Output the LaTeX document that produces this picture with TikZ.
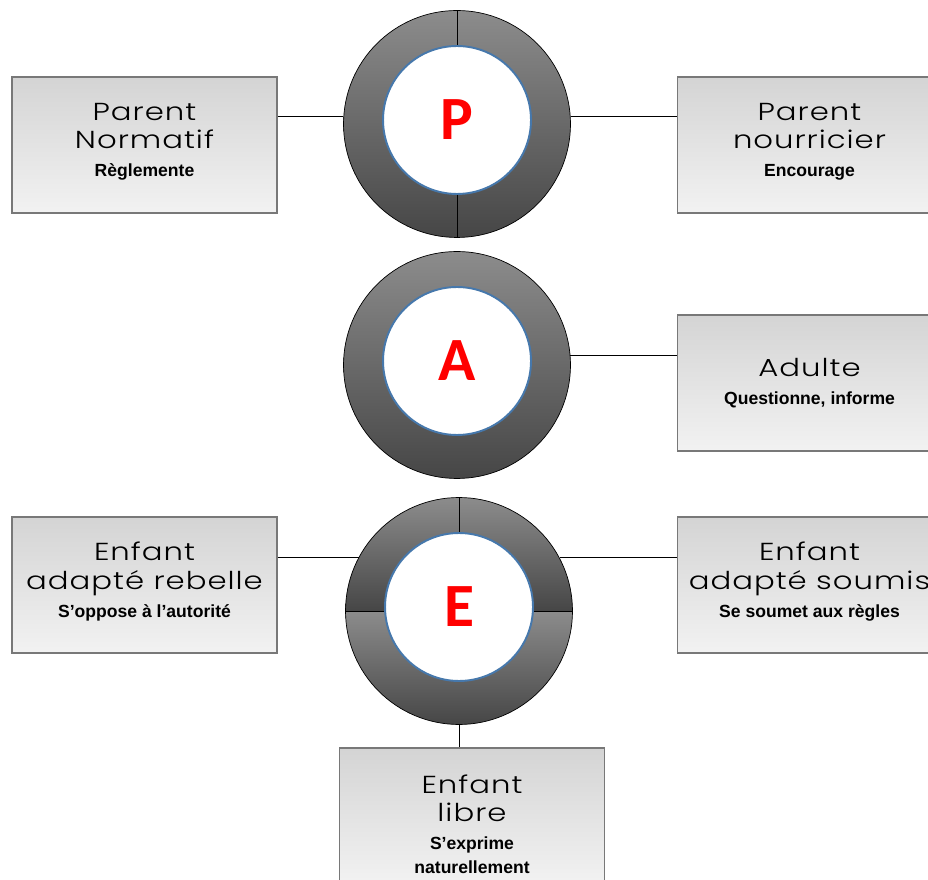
\documentclass[tikz,border=0pt]{standalone}
\usepackage{fontspec}
\usepackage{tikz}
\usetikzlibrary{positioning}

\newfontfamily\titrefont{Poppins Light}[FakeStretch=1.25, LetterSpace=4]
\newfontfamily\sousfont{Liberation Sans}
\newfontfamily\lettrefont{Carlito}

\definecolor{boitebord}{RGB}{120,120,120}
\definecolor{boitehaut}{RGB}{212,212,212}
\definecolor{boitebas}{RGB}{242,242,242}
\definecolor{anneauclair}{RGB}{140,140,140}
\definecolor{anneaufonce}{RGB}{70,70,70}
\definecolor{coeurbord}{RGB}{70,120,172}

\newcommand{\sous}[1]{{\sousfont\bfseries\fontsize{10}{12}\selectfont #1}}

\begin{document}
\begin{tikzpicture}[
            x = 0.02cm, y = 0.02cm, % one unit = one pixel of the layout
            boite/.style = {draw=boitebord, semithick, top color=boitehaut,
                            bottom color=boitebas, minimum width=5.3cm,
                            minimum height=2.72cm, align=center, inner sep=0pt,
                            font=\titrefont\fontsize{14}{16}\selectfont},
            anneau/.style = {circle, draw, thin, minimum size=4.54cm, inner sep=0pt},
            coeur/.style = {circle, draw=coeurbord, line width=1.1pt, fill=white,
                            minimum size=2.96cm, inner sep=0pt, yshift=0.08cm,
                            text=red, font=\lettrefont\bfseries\fontsize{35}{40}\selectfont},
            lien/.style = {draw, thin}
        ]

    \useasboundingbox (0,0) rectangle (928,879);
    \clip (0,0) rectangle (928,879);

    % the three rings
    \node[anneau, top color=anneauclair, bottom color=anneaufonce] (P) at (457,755) {};
    \node[anneau, top color=anneauclair, bottom color=anneaufonce] (A) at (457,514) {};

    \coordinate (Ec) at (459,268);
    \shade[top color=anneauclair, bottom color=anneaufonce]
        (Ec) ++(-2.27cm,0) arc[start angle=180, end angle=0, radius=2.27cm] -- cycle;
    \shade[top color=anneauclair, bottom color=anneaufonce]
        (Ec) ++(-2.27cm,0) arc[start angle=180, end angle=360, radius=2.27cm] -- cycle;
    \node[anneau] (E) at (Ec) {};

    \node[coeur] (Pi) at (P) {P};
    \node[coeur] (Ai) at (A) {A};
    \node[coeur] (Ei) at (E) {E};

    % segments of the rings
    \draw (P.north) -- (Pi.north);
    \draw (Pi.south) -- (P.south);
    \draw (E.north) -- (Ei.north -| E.north);
    \draw (E.west) -- (Ei.west |- E.west);
    \draw (Ei.east |- E.east) -- (E.east);

    % the boxes
    \node[boite] (pn) at (144.5,734) {Parent\\Normatif\\\sous{Règlemente}\\[-10pt]};
    \node[boite] (pnr) at (809.5,734) {Parent\\nourricier\\\sous{Encourage}\\[-10pt]};
    \node[boite] (ad) at (809.5,496) {Adulte\\\sous{Questionne, informe}};
    \node[boite] (ear) at (144.5,294) {Enfant\\adapté rebelle\\\sous{S’oppose à l’autorité}\\[-10pt]};
    \node[boite] (eas) at (809.5,294) {Enfant\\adapté soumis\\\sous{Se soumet aux règles}\\[-10pt]};
    \node[boite] (el) at (472,63) {\mbox{}\\[4pt]Enfant\\libre\\\sous{S’exprime}\\[-2pt]\sous{naturellement}};

    % links
    \draw[lien] (pn.east |- P.176) -- (P.176);
    \draw[lien] (P.4) -- (pnr.west |- P.4);
    \draw[lien] (A.5) -- (ad.west |- A.5);
    \draw[lien] (ear.east |- E.152) -- (E.152);
    \draw[lien] (E.28) -- (eas.west |- E.28);
    \draw[lien] (E.south) -- (el.north -| E.south);

\end{tikzpicture}
\end{document}
